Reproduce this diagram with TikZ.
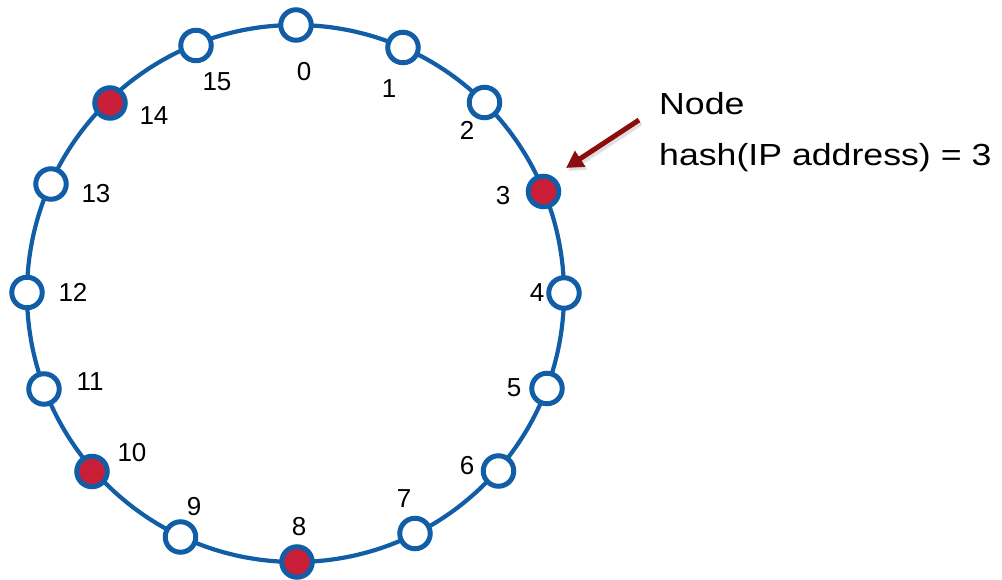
\documentclass[tikz,border=0pt]{standalone}
\usepackage{fontspec}
\setmainfont{Liberation Sans}
\newfontfamily\capfont[FakeStretch=1.17]{Liberation Sans}
\usetikzlibrary{arrows.meta}
\definecolor{ringblue}{RGB}{17,94,166}
\definecolor{nodered}{RGB}{200,30,56}
\definecolor{arrowred}{RGB}{138,14,14}
\begin{document}
\begin{tikzpicture}[x=1pt,y=-1pt,
  slot/.style={circle,draw=ringblue,line width=5pt,minimum size=30.5pt,inner sep=0pt,fill=white},
  taken/.style={slot,fill=nodered},
  num/.style={font=\fontsize{26}{30}\selectfont,inner sep=0pt,anchor=center},
  caption/.style={font=\capfont\fontsize{30.5}{36}\selectfont,inner sep=0pt,anchor=base west}]
\useasboundingbox (0,0) rectangle (1002,580);
\coordinate (c) at (295.5,293.5);
% the ring
\draw[ringblue,line width=4.2pt] (c) circle[radius=268.5];
% the sixteen positions
\node[slot]  (n0)  at (296,25)    {};
\node[slot]  (n1)  at (403,47.5)  {};
\node[slot]  (n2)  at (484.5,102.5) {};
\node[taken] (n3)  at (543.5,191.5) {};
\node[slot]  (n4)  at (564,293)   {};
\node[slot]  (n5)  at (547,388.5) {};
\node[slot]  (n6)  at (498.5,471) {};
\node[slot]  (n7)  at (415,533.5) {};
\node[taken] (n8)  at (297,562)   {};
\node[slot]  (n9)  at (180.5,537) {};
\node[taken] (n10) at (92,471.5)  {};
\node[slot]  (n11) at (44,389)    {};
\node[slot]  (n12) at (27,292.5)  {};
\node[slot]  (n13) at (51,184)    {};
\node[taken] (n14) at (110,103)   {};
\node[slot]  (n15) at (196,45.5)  {};
% position numbers
\node[num] (l0) at (304,72) {0};
\node[num] (l1) at (389,89) {1};
\node[num] (l2) at (467,130) {2};
\node[num] (l3) at (503,196) {3};
\node[num] (l4) at (537,293) {4};
\node[num] (l5) at (514,388) {5};
\node[num] (l6) at (467,466) {6};
\node[num] (l7) at (404,499) {7};
\node[num] (l8) at (299,527) {8};
\node[num] (l9) at (194,507) {9};
\node[num] (l10) at (132,453) {10};
\node[num] (l11) at (90,382) {11};
\node[num] (l12) at (73,292) {12};
\node[num] (l13) at (96,194) {13};
\node[num] (l14) at (154,116) {14};
\node[num] (l15) at (217,82) {15};
% caption and pointer
\node[caption] (t1) at (659,115) {Node};
\node[caption] (t2) at (659,166) {hash(IP address) = 3};
\coordinate (tail) at (639,120);
\coordinate (tip) at (566,168);
\draw[black!25,line width=5pt,-{Triangle[length=17pt,width=18pt]},opacity=0.5]
  ([shift={(2,3)}]tail) -- ([shift={(2,3)}]tip);
\draw[arrowred,line width=5pt,-{Triangle[length=17pt,width=18pt]}] (tail) -- (tip);
\end{tikzpicture}
\end{document}
